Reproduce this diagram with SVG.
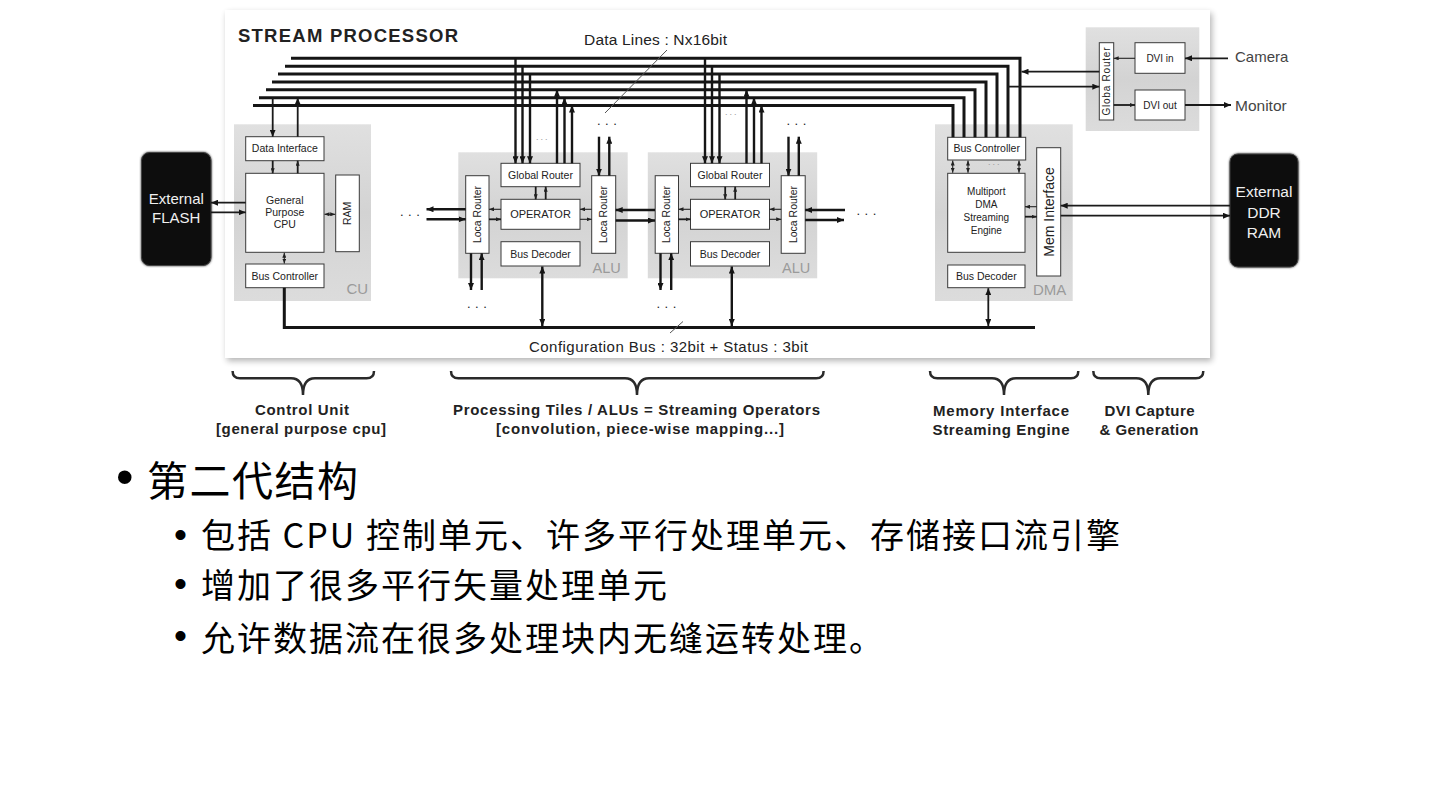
<svg xmlns="http://www.w3.org/2000/svg" width="1440" height="810" viewBox="0 0 1440 810">
<defs>
<style>
.tile{fill:url(#tg)}
.box{fill:#fff;stroke:#3a3a3a;stroke-width:1}
.t{font-family:"Liberation Sans",Arial,sans-serif;font-size:10.5px;fill:#222;text-anchor:middle}
.gl{font-family:"Liberation Sans",Arial,sans-serif;fill:#9a9a9a}
.ext{font-family:"Liberation Sans",Arial,sans-serif;font-size:15px;fill:#f0f0f0;text-anchor:middle}
.io{font-family:"Liberation Sans",Arial,sans-serif;font-size:15px;fill:#444}
.dots{font-family:"Liberation Sans",Arial,sans-serif;font-size:13px;fill:#222;letter-spacing:4.5px}
.gdots{font-family:"Liberation Sans",Arial,sans-serif;font-size:9px;fill:#999;letter-spacing:2px}
.lbl{font-family:"Liberation Sans",Arial,sans-serif;font-size:15px;font-weight:bold;fill:#222;text-anchor:middle}
.cap{font-family:"Liberation Sans",Arial,sans-serif;font-size:15px;fill:#222}
.bus{fill:none;stroke:#151515;stroke-width:3;stroke-linejoin:miter}
.w{fill:none;stroke:#151515;stroke-width:2.4}
.m{fill:none;stroke:#1a1a1a;stroke-width:1.8}
.n{fill:none;stroke:#222;stroke-width:1.1}
.ae{marker-end:url(#a)}
.ab{marker-start:url(#a);marker-end:url(#a)}
.se{marker-end:url(#s)}
.sb{marker-start:url(#s);marker-end:url(#s)}
.brace{fill:none;stroke:#2a2a2a;stroke-width:2.5}
.slash{fill:none;stroke:#555;stroke-width:1}
.zh{font-family:"Noto Sans CJK SC","Noto Sans CJK TC",sans-serif;fill:#000}
.bul{font-family:"Liberation Sans",Arial,sans-serif;fill:#000}
</style>
<linearGradient id="tg" x1="0" y1="0" x2="0" y2="1">
<stop offset="0" stop-color="#e0e0e0"/>
<stop offset="0.5" stop-color="#d3d3d3"/>
<stop offset="1" stop-color="#dcdcdc"/>
</linearGradient>
<marker id="a" markerUnits="userSpaceOnUse" markerWidth="7" markerHeight="6" refX="7" refY="3" orient="auto-start-reverse">
<path d="M0,0L7,3L0,6z" fill="#151515"/>
</marker>
<marker id="s" markerUnits="userSpaceOnUse" markerWidth="5" markerHeight="4" refX="5" refY="2" orient="auto-start-reverse">
<path d="M0,0L5,2L0,4z" fill="#222"/>
</marker>
<filter id="sh" x="-5%" y="-5%" width="110%" height="115%">
<feGaussianBlur in="SourceAlpha" stdDeviation="3"/>
<feOffset dx="2" dy="3" result="b"/>
<feComponentTransfer><feFuncA type="linear" slope="0.3"/></feComponentTransfer>
<feMerge><feMergeNode/><feMergeNode in="SourceGraphic"/></feMerge>
</filter>
<filter id="soft" x="-10%" y="-10%" width="120%" height="120%">
<feGaussianBlur in="SourceGraphic" stdDeviation="1.2" result="bl"/>
<feMerge><feMergeNode in="bl"/><feMergeNode in="SourceGraphic"/></feMerge>
</filter>
</defs>

<rect width="1440" height="810" fill="#fff"/>

<g id="stream-processor">
<rect x="225" y="10" width="985" height="348" fill="#fff" filter="url(#sh)"/>
<text x="238" y="41.7" font-family="'Liberation Sans',Arial,sans-serif" font-size="18.5" font-weight="bold" fill="#222" textLength="220">STREAM PROCESSOR</text>
</g>

<g id="external-flash">
<rect x="141.5" y="152.5" width="69.5" height="113" rx="8" fill="#0c0c0c" stroke="#444" stroke-width="1" filter="url(#soft)"/>
<text class="ext" x="176.3" y="203.5">External</text>
<text class="ext" x="176.3" y="222.5">FLASH</text>
</g>

<g id="cu">
<rect class="tile" x="234" y="124.3" width="137" height="176.7"/>
<rect class="box" x="245.7" y="136.7" width="78.3" height="24"/>
<text class="t" x="284.8" y="152.4">Data Interface</text>
<rect class="box" x="245.7" y="173.3" width="78.3" height="79"/>
<text class="t" x="284.8" y="204">General</text>
<text class="t" x="284.8" y="216">Purpose</text>
<text class="t" x="284.8" y="228">CPU</text>
<rect class="box" x="335.7" y="175" width="23.6" height="76.7"/>
<text class="t" x="347.5" y="217" transform="rotate(-90 347.5 213.3)">RAM</text>
<rect class="box" x="245.7" y="264" width="78.3" height="23.7"/>
<text class="t" x="284.8" y="279.7">Bus Controller</text>
<text class="gl" x="346.5" y="294" style="font-size:15px">CU</text>
</g>

<g id="alu1">
<rect class="tile" x="458.3" y="152.3" width="169.4" height="126"/>
<rect class="box" x="465.7" y="175.7" width="23.3" height="77.6"/>
<text class="t" x="477.3" y="218.2" transform="rotate(-90 477.3 214.5)">Loca Router</text>
<rect class="box" x="501" y="163.3" width="79" height="23.4"/>
<text class="t" x="540.5" y="178.7">Global Router</text>
<rect class="box" x="501" y="199.3" width="79" height="30"/>
<text class="t" x="540.5" y="218.3" style="font-size:11px">OPERATOR</text>
<rect class="box" x="501" y="241.7" width="79" height="24.3"/>
<text class="t" x="540.5" y="257.7">Bus Decoder</text>
<rect class="box" x="591.7" y="175.7" width="24" height="77.6"/>
<text class="t" x="603.7" y="218.2" transform="rotate(-90 603.7 214.5)">Loca Router</text>
<text class="gl" x="592.5" y="272.5" style="font-size:14.5px">ALU</text>
</g>

<g id="alu2" transform="translate(189.5 0)">
<rect class="tile" x="458.3" y="152.3" width="169.4" height="126"/>
<rect class="box" x="465.7" y="175.7" width="23.3" height="77.6"/>
<text class="t" x="477.3" y="218.2" transform="rotate(-90 477.3 214.5)">Loca Router</text>
<rect class="box" x="501" y="163.3" width="79" height="23.4"/>
<text class="t" x="540.5" y="178.7">Global Router</text>
<rect class="box" x="501" y="199.3" width="79" height="30"/>
<text class="t" x="540.5" y="218.3" style="font-size:11px">OPERATOR</text>
<rect class="box" x="501" y="241.7" width="79" height="24.3"/>
<text class="t" x="540.5" y="257.7">Bus Decoder</text>
<rect class="box" x="591.7" y="175.7" width="24" height="77.6"/>
<text class="t" x="603.7" y="218.2" transform="rotate(-90 603.7 214.5)">Loca Router</text>
<text class="gl" x="592.5" y="272.5" style="font-size:14.5px">ALU</text>
</g>

<g id="dma">
<rect class="tile" x="935" y="124.3" width="137.7" height="176.7"/>
<rect class="box" x="947.7" y="137.3" width="78" height="22.7"/>
<text class="t" x="986.7" y="152.2">Bus Controller</text>
<rect class="box" x="947.7" y="173.3" width="77.3" height="79"/>
<text class="t" x="986.3" y="195" style="font-size:10px">Multiport</text>
<text class="t" x="986.3" y="208" style="font-size:10px">DMA</text>
<text class="t" x="986.3" y="221" style="font-size:10px">Streaming</text>
<text class="t" x="986.3" y="234" style="font-size:10px">Engine</text>
<rect class="box" x="1036.7" y="147.7" width="24" height="128.3"/>
<text class="t" x="1048.7" y="217" style="font-size:14px" transform="rotate(-90 1048.7 212)">Mem Interface</text>
<rect class="box" x="947.7" y="265" width="77.3" height="22.7"/>
<text class="t" x="986.3" y="280">Bus Decoder</text>
<text class="gl" x="1033" y="295" style="font-size:15px">DMA</text>
</g>

<g id="dvi">
<rect class="tile" x="1085.7" y="27.3" width="113.6" height="103.7"/>
<rect class="box" x="1099.3" y="42.7" width="14.4" height="77.3"/>
<text class="t" x="1106.5" y="85" style="font-size:10px" textLength="68" transform="rotate(-90 1106.5 81.5)">Globa Router</text>
<rect class="box" x="1135" y="42.7" width="50" height="30.6"/>
<text class="t" x="1160" y="61.5" style="font-size:10px">DVI in</text>
<rect class="box" x="1135" y="90" width="50" height="30"/>
<text class="t" x="1160" y="108.5" style="font-size:10px">DVI out</text>
</g>

<g id="external-ddr">
<rect x="1230" y="154" width="68" height="113" rx="8" fill="#0c0c0c" stroke="#444" stroke-width="1" filter="url(#soft)"/>
<text class="ext" x="1264" y="196.7" style="font-size:15.5px">External</text>
<text class="ext" x="1264" y="217.5" style="font-size:15.5px">DDR</text>
<text class="ext" x="1264" y="237.5" style="font-size:15.5px">RAM</text>
</g>

<g id="camera"><text class="io" x="1235" y="62.3">Camera</text></g>
<g id="monitor"><text class="io" x="1235" y="110.7" style="font-size:15.5px">Monitor</text></g>

<g id="connectors">
<path class="bus" d="M291,58.3H1020V137.3"/>
<path class="bus" d="M285,66.2H1008V137.3"/>
<path class="bus" d="M278,74.1H997V137.3"/>
<path class="bus" d="M272,81.9H986V137.3"/>
<path class="bus" d="M266,89.8H975V137.3"/>
<path class="bus" d="M259,97.7H964V137.3"/>
<path class="bus" d="M253,105.6H953V137.3"/>
<path class="bus" d="M284.3,287.7V327.5H1035"/>
<path class="m ae" d="M272.7,97.7V136.7"/>
<path class="m ae" d="M297.7,136.7V97.7"/>
<path class="m se" d="M272.7,160.7V173.3"/>
<path class="m se" d="M297.7,173.3V160.7"/>
<path class="n sb" d="M324.5,214.3H335.2"/>
<path class="n sb" d="M284.3,252.8V263.5"/>
<path class="m ae" d="M245.7,202.7H211"/>
<path class="m ae" d="M211,212.3H245.7"/>
<path class="w ae" d="M465.7,209.3H426.5"/>
<path class="w ae" d="M426.5,219.3H465.7"/>
<g id="alu1-links">
<path class="w ae" d="M515.5,58.3V163.3"/>
<path class="w ae" d="M522.5,66.2V163.3"/>
<path class="w ae" d="M530,74.1V163.3"/>
<path class="w ae" d="M557,163.3V89.8"/>
<path class="w ae" d="M564.5,163.3V97.7"/>
<path class="w ae" d="M572,163.3V105.6"/>
<path class="m se" d="M535.7,186.7V199.3"/>
<path class="m se" d="M545.7,199.3V186.7"/>
<path class="n se" d="M501,209.3H489"/>
<path class="m se" d="M489,219.3H501"/>
<path class="n se" d="M591.7,209.3H580"/>
<path class="n se" d="M580,219.3H591.7"/>
<path class="w ae" d="M599,136.7V175.7"/>
<path class="w ae" d="M609.3,175.7V136.7"/>
<path class="w ae" d="M471,253.3V290"/>
<path class="w ae" d="M481.7,290V253.3"/>
<path class="w ab" d="M542.3,266.5V326"/>
</g>
<g id="alu2-links" transform="translate(189.5 0)">
<path class="w ae" d="M515.5,58.3V163.3"/>
<path class="w ae" d="M522.5,66.2V163.3"/>
<path class="w ae" d="M530,74.1V163.3"/>
<path class="w ae" d="M557,163.3V89.8"/>
<path class="w ae" d="M564.5,163.3V97.7"/>
<path class="w ae" d="M572,163.3V105.6"/>
<path class="m se" d="M535.7,186.7V199.3"/>
<path class="m se" d="M545.7,199.3V186.7"/>
<path class="n se" d="M501,209.3H489"/>
<path class="m se" d="M489,219.3H501"/>
<path class="n se" d="M591.7,209.3H580"/>
<path class="n se" d="M580,219.3H591.7"/>
<path class="w ae" d="M599,136.7V175.7"/>
<path class="w ae" d="M609.3,175.7V136.7"/>
<path class="w ae" d="M471,253.3V290"/>
<path class="w ae" d="M481.7,290V253.3"/>
<path class="w ab" d="M542.3,266.5V326"/>
</g>
<path class="w ae" d="M655,210H615.7"/>
<path class="w ae" d="M615.7,220.5H655"/>
<path class="w ae" d="M845,210H805.2"/>
<path class="w ae" d="M805.2,220H844"/>
<path class="n sb" d="M952.7,160.5V172.8"/>
<path class="n sb" d="M968,160.5V172.8"/>
<path class="n sb" d="M1019,160.5V172.8"/>
<path class="n se" d="M1036.7,206.7H1025"/>
<path class="m se" d="M1025,216.7H1036.7"/>
<path class="m ae" d="M1230,205.7H1060.7"/>
<path class="m ae" d="M1060.7,215.7H1230"/>
<path class="m ab" d="M988.3,288.2V326"/>
<path class="m ae" d="M1099.3,71.7H1021.5"/>
<path class="m ae" d="M1008,86.7H1099.3"/>
<path class="n se" d="M1135,58.3H1113.7"/>
<path class="m se" d="M1113.7,105H1135"/>
<path class="m ae" d="M1228,58.3H1185"/>
<path class="m ae" d="M1185,105H1231"/>
<path class="slash" d="M605,113L667,50"/>
<path class="slash" d="M670,333L683,321.5"/>
</g>

<g id="dots">
<text class="dots" x="400" y="216">...</text>
<text class="dots" x="597" y="124.5">...</text>
<text class="dots" x="467" y="307.5">...</text>
<text class="gdots" x="536" y="139.5">...</text>
<text class="dots" x="786.5" y="124.5">...</text>
<text class="dots" x="656.5" y="307.5">...</text>
<text class="gdots" x="725" y="115">...</text>
<text class="dots" x="856.5" y="215">...</text>
<text class="gdots" x="988" y="165">...</text>
</g>

<g id="bus-labels">
<text class="cap" x="584" y="45" style="font-size:15.5px" textLength="143">Data Lines : Nx16bit</text>
<text class="cap" x="529" y="352" textLength="279">Configuration Bus : 32bit + Status : 3bit</text>
</g>

<g id="braces">
<path class="brace" d="M232.6,371Q232.6,378.3 240,378.3H291Q303,378.3 303,395Q303,378.3 315,378.3H366.6Q374,378.3 374,371"/>
<path class="brace" d="M451,371Q451,378.3 458.4,378.3H625Q637,378.3 637,395Q637,378.3 649,378.3H816.2Q823.6,378.3 823.6,371"/>
<path class="brace" d="M930,371Q930,378.3 937.4,378.3H992Q1004,378.3 1004,395Q1004,378.3 1016,378.3H1070.9Q1078.3,378.3 1078.3,371"/>
<path class="brace" d="M1093.3,371Q1093.3,378.3 1100.7,378.3H1136.3Q1148.3,378.3 1148.3,395Q1148.3,378.3 1160.3,378.3H1195.9Q1203.3,378.3 1203.3,371"/>
<text class="lbl" x="302" y="415" textLength="94">Control Unit</text>
<text class="lbl" x="301" y="434" textLength="170">[general purpose cpu]</text>
<text class="lbl" x="636.5" y="415" textLength="367">Processing Tiles / ALUs = Streaming Operators</text>
<text class="lbl" x="640" y="434" textLength="288">[convolution, piece-wise mapping...]</text>
<text class="lbl" x="1001" y="416" textLength="136">Memory Interface</text>
<text class="lbl" x="1001" y="435" textLength="137">Streaming Engine</text>
<text class="lbl" x="1149.5" y="416" textLength="90">DVI Capture</text>
<text class="lbl" x="1149" y="435" textLength="99">&amp; Generation</text>
</g>

<g id="bullets">
<text class="bul" x="116" y="494" style="font-size:50px">•</text>
<text class="zh" x="147" y="495.5" font-size="41" letter-spacing="1.5">第二代结构</text>
<text class="bul" x="174" y="547" style="font-size:37px">•</text>
<text class="zh" x="201" y="548" font-size="34" letter-spacing="2">包括 CPU 控制单元、许多平行处理单元、存储接口流引擎</text>
<text class="bul" x="174" y="596" style="font-size:37px">•</text>
<text class="zh" x="201" y="598" font-size="34" letter-spacing="2">增加了很多平行矢量处理单元</text>
<text class="bul" x="174" y="648" style="font-size:37px">•</text>
<text class="zh" x="201" y="650.5" font-size="34" letter-spacing="2">允许数据流在很多处理块内无缝运转处理。</text>
</g>
</svg>
